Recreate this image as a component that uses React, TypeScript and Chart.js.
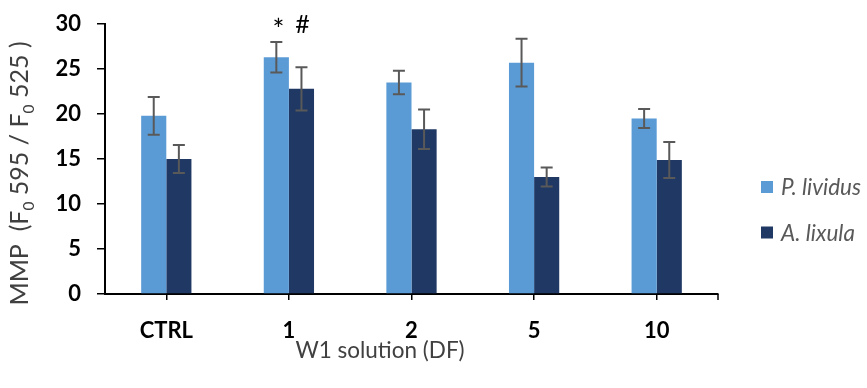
import { useEffect, useRef } from "react";
import { Chart, registerables } from "chart.js";

Chart.register(...registerables);

// Mitochondrial membrane potential by W1 dilution factor
const categories = ["CTRL", "1", "2", "5", "10"];
const seriesNames = ["P. lividus", "A. lixula"];
const lividusMean = [19.8, 26.3, 23.5, 25.7, 19.5];
const lividusErr = [2.1, 1.7, 1.3, 2.65, 1.05];
const lixulaMean = [15.0, 22.8, 18.3, 13.0, 14.9];
const lixulaErr = [1.55, 2.4, 2.2, 1.05, 2.0];
const yMin = 0;
const yMax = 30;
const yStep = 5;
// significance marks: category index, series index, symbol
const sigCategory = [1, 1];
const sigSeries = [0, 1];
const sigSymbol = ["*", "#"];

const FONT = "Lato, 'Open Sans', sans-serif";
const COLORS = ["#5B9BD5", "#203864"];
const ERR_COLOR = "#595959";
const TITLE_COLOR = "#404040";

const errors = [lividusErr, lixulaErr];

type Seg = { t: string; sub?: boolean };

function drawRich(ctx: CanvasRenderingContext2D, segs: Seg[], size: number, color: string) {
  const subSize = size * 0.62;
  const widths = segs.map((s) => {
    ctx.font = `${s.sub ? subSize : size}px ${FONT}`;
    return ctx.measureText(s.t).width;
  });
  const total = widths.reduce((a, b) => a + b, 0);
  let x = -total / 2;
  ctx.fillStyle = color;
  ctx.textBaseline = "alphabetic";
  ctx.textAlign = "left";
  segs.forEach((s, i) => {
    ctx.font = `${s.sub ? subSize : size}px ${FONT}`;
    ctx.fillText(s.t, x, s.sub ? size * 0.22 : 0);
    x += widths[i];
  });
}

const decorPlugin = {
  id: "decor",
  afterDatasetsDraw(chart: any) {
    const ctx: CanvasRenderingContext2D = chart.ctx;
    const y = chart.scales.y;
    const area = chart.chartArea;

    // error bars
    ctx.save();
    ctx.strokeStyle = ERR_COLOR;
    ctx.lineWidth = 2;
    chart.data.datasets.forEach((ds: any, di: number) => {
      const meta = chart.getDatasetMeta(di);
      meta.data.forEach((el: any, j: number) => {
        const v = ds.data[j];
        const e = errors[di][j];
        const top = y.getPixelForValue(v + e);
        const bot = y.getPixelForValue(v - e);
        const cx = el.x;
        ctx.beginPath();
        ctx.moveTo(cx, top);
        ctx.lineTo(cx, bot);
        ctx.moveTo(cx - 6, top);
        ctx.lineTo(cx + 6, top);
        ctx.moveTo(cx - 6, bot);
        ctx.lineTo(cx + 6, bot);
        ctx.stroke();
      });
    });

    // significance symbols
    ctx.fillStyle = "#000";
    ctx.textAlign = "center";
    ctx.textBaseline = "alphabetic";
    sigSymbol.forEach((s, k) => {
      const el = chart.getDatasetMeta(sigSeries[k]).data[sigCategory[k]];
      const star = s === "*";
      ctx.font = `${star ? 28 : 25}px ${FONT}`;
      ctx.fillText(s, el.x + (star ? 2 : 1), y.getPixelForValue(yMax) + (star ? 16 : 9));
    });

    // end tick of the category axis
    ctx.strokeStyle = "#000";
    ctx.lineWidth = 1.5;
    ctx.beginPath();
    ctx.moveTo(area.right, area.bottom);
    ctx.lineTo(area.right, area.bottom + 6);
    ctx.stroke();

    // axis titles
    ctx.save();
    ctx.translate(28, 173.5);
    ctx.rotate(-Math.PI / 2);
    drawRich(
      ctx,
      [
        { t: "MMP  (F" },
        { t: "0", sub: true },
        { t: " 595 / F" },
        { t: "0", sub: true },
        { t: " 525 )" },
      ],
      25,
      TITLE_COLOR
    );
    ctx.restore();

    ctx.save();
    ctx.translate(380, 358);
    drawRich(ctx, [{ t: "W1 solution (DF)" }], 22.5, TITLE_COLOR);
    ctx.restore();

    // legend
    const lx = area.right + 43;
    const rows = [187, 232.5];
    seriesNames.forEach((name, i) => {
      ctx.fillStyle = COLORS[i];
      ctx.fillRect(lx, rows[i] - 6, 12, 12);
      ctx.fillStyle = ERR_COLOR;
      ctx.font = `italic 22.5px ${FONT}`;
      ctx.textAlign = "left";
      ctx.textBaseline = "middle";
      ctx.fillText(name, lx + 20, rows[i] + 1);
    });
    ctx.restore();
  },
};

export default function App() {
  const ref = useRef<HTMLCanvasElement | null>(null);

  useEffect(() => {
    if (!ref.current) return;
    const chart = new Chart(ref.current, {
      type: "bar",
      data: {
        labels: categories,
        datasets: [
          {
            label: seriesNames[0],
            data: lividusMean,
            backgroundColor: COLORS[0],
            categoryPercentage: 0.41,
            barPercentage: 1,
          },
          {
            label: seriesNames[1],
            data: lixulaMean,
            backgroundColor: COLORS[1],
            categoryPercentage: 0.41,
            barPercentage: 1,
          },
        ],
      },
      options: {
        animation: false,
        responsive: true,
        maintainAspectRatio: false,
        layout: { padding: { top: 24, right: 149, left: 0, bottom: 0 } },
        plugins: {
          legend: { display: false },
          tooltip: { enabled: false },
        },
        scales: {
          x: {
            grid: {
              display: true,
              offset: false,
              drawOnChartArea: false,
              drawTicks: true,
              tickLength: 6,
              color: "#000",
              lineWidth: 1.5,
            },
            border: { display: true, color: "#000", width: 2 },
            ticks: {
              color: "#000",
              padding: 18,
              font: { family: FONT, size: 22, weight: "bold" },
            },
            afterFit(scale: any) {
              scale.height = 94;
              scale.paddingLeft = 0;
              scale.paddingRight = 0;
            },
          },
          y: {
            min: yMin,
            max: yMax,
            grid: {
              display: true,
              drawOnChartArea: false,
              drawTicks: true,
              tickLength: 8,
              color: "#000",
              lineWidth: 1.5,
            },
            border: { display: true, color: "#000", width: 2 },
            ticks: {
              stepSize: yStep,
              color: "#000",
              padding: 16,
              font: { family: FONT, size: 22, weight: "bold" },
            },
            afterFit(scale: any) {
              scale.width = 105;
              scale.paddingTop = 0;
              scale.paddingBottom = 0;
            },
          },
        },
      },
      plugins: [decorPlugin],
    });
    return () => chart.destroy();
  }, []);

  return (
    <div style={{ position: "absolute", left: 0, top: 0, width: 867, height: 388 }}>
      <canvas ref={ref} />
    </div>
  );
}
